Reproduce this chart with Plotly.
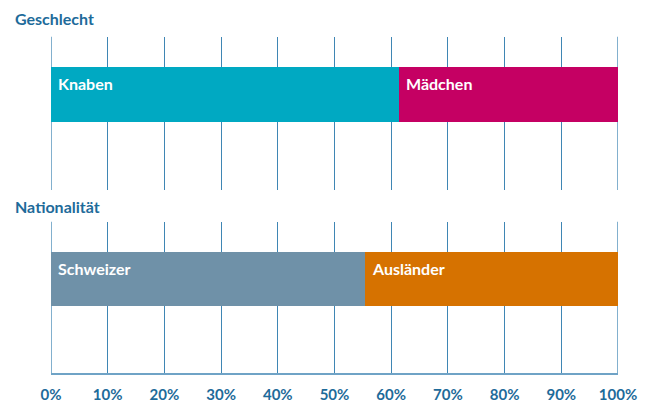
import plotly.graph_objects as go
from plotly.subplots import make_subplots

panels = ["Geschlecht", "Nationalität"]
cats_top = ["Knaben", "Mädchen"]
vals_top = [61.4, 38.6]
cats_bot = ["Schweizer", "Ausländer"]
vals_bot = [55.4, 44.6]
colors_top = ["#00A9C2", "#C50063"]
colors_bot = ["#6F91A8", "#D67200"]
tick_vals = list(range(0, 101, 10))
tick_text = [f"{v}%" for v in tick_vals]

BLUE = "#1E6B9A"
GRID = "#3F86B4"
FONT = "Lato"

fig = make_subplots(rows=2, cols=1, shared_xaxes=False, vertical_spacing=0.085)

groups = [(cats_top, vals_top, colors_top), (cats_bot, vals_bot, colors_bot)]
annotations = []
for i, (cats, vals, cols) in enumerate(groups, start=1):
    sfx = "" if i == 1 else str(i)
    base = 0
    for c, v, col in zip(cats, vals, cols):
        fig.add_trace(go.Bar(x=[v], y=[0], base=[base], orientation="h", width=1,
                             marker=dict(color=col, line=dict(width=0)),
                             showlegend=False, hoverinfo="skip"), row=i, col=1)
        annotations.append(dict(x=base, y=0.5, xref=f"x{sfx}", yref=f"y{sfx}", text=c,
                                showarrow=False, xanchor="left", yanchor="top",
                                xshift=5, yshift=-5,
                                font=dict(family=FONT, size=16, color="white", weight="bold")))
        base += v
    # edge gridlines at 0% and 100% (plotly omits gridlines at range edges)
    for xv in (tick_vals[0], tick_vals[-1]):
        fig.add_shape(type="line", xref=f"x{sfx}", yref=f"y{sfx} domain", x0=xv, x1=xv,
                      y0=0, y1=1, line=dict(color=GRID, width=1.3), layer="below")

fig.update_layout(
    width=651, height=403,
    margin=dict(l=51, r=33, t=0, b=28),
    plot_bgcolor="white", paper_bgcolor="white",
    barmode="overlay", bargap=0,
    yaxis=dict(domain=[0.4907, 0.9013], range=[-1.755, 1.045], visible=False, fixedrange=True),
    yaxis2=dict(domain=[0.0, 0.4053], range=[-1.759, 1.056], visible=False, fixedrange=True),
)
common = dict(range=[0, 100], tickvals=tick_vals, showgrid=True, gridcolor=GRID, gridwidth=1.3,
              zeroline=False, layer="below traces")
fig.update_xaxes(**common, showticklabels=False, showline=False, row=1, col=1)
fig.update_xaxes(**common, ticktext=tick_text, showticklabels=True,
                 showline=True, linecolor="#6FA3C6", linewidth=1.5, ticks="", ticklabelstandoff=7,
                 tickfont=dict(family=FONT, size=15, color=BLUE, weight="bold"), row=2, col=1)

annotations += [
    dict(x=13, y=19, text=panels[0], showarrow=False),
    dict(x=13, y=208, text=panels[1], showarrow=False),
]
for a in annotations[-2:]:
    a.update(xref="paper", yref="paper", xanchor="left", yanchor="middle",
             x=(a["x"] - 51) / (651 - 51 - 33), y=1 - a["y"] / 375,
             font=dict(family=FONT, size=16, color=BLUE, weight="bold"))
fig.update_layout(annotations=annotations)

fig.write_html("out.html", config={"displayModeBar": False},
               post_script="document.body.style.margin='0';document.body.style.overflow='hidden';")
